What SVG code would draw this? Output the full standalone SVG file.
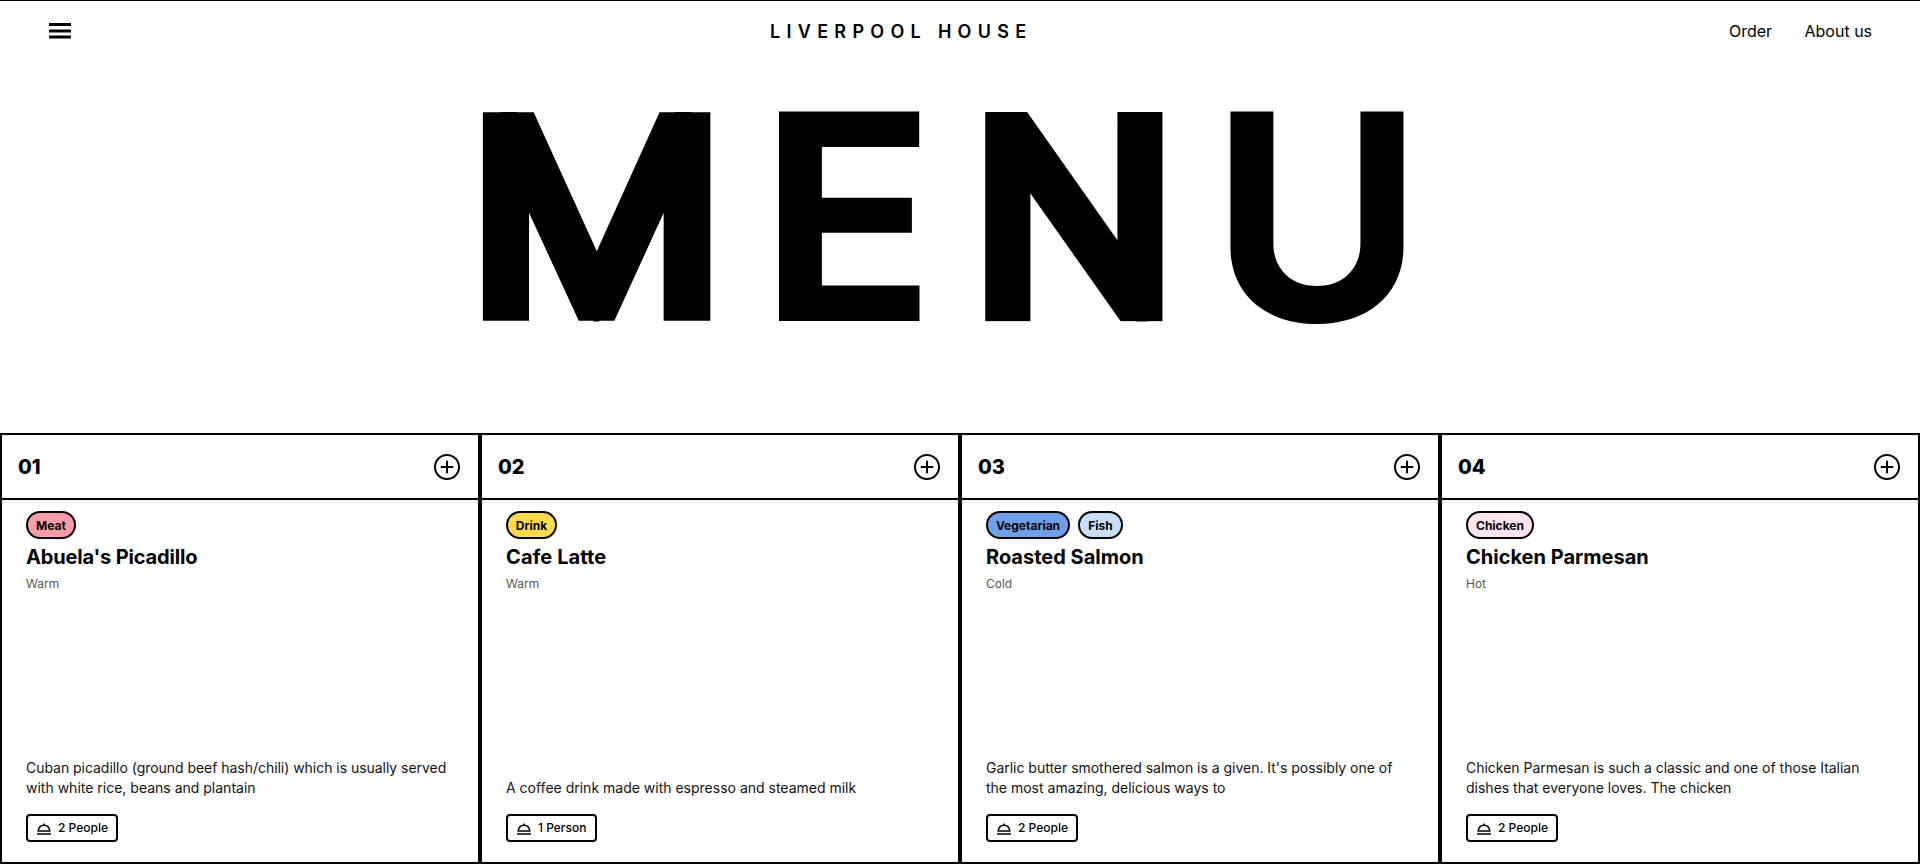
<svg xmlns="http://www.w3.org/2000/svg" xmlns:xlink="http://www.w3.org/1999/xlink" width="1920" height="864" viewBox="0 0 1920 864">
<style>
text{font-family:Inter,"Noto Sans","Liberation Sans",sans-serif;fill:#000}
.nav{font-size:16px;font-weight:400}
.brand{font-size:18px;font-weight:600;letter-spacing:6.3px}
.hero{font-size:288px;font-weight:740}
.heroline{font-size:253px;font-weight:300;stroke:#000;stroke-width:26px;stroke-linejoin:miter;stroke-miterlimit:10;vector-effect:non-scaling-stroke}
.num{font-size:20px;font-weight:800}
.tag{font-size:12px;font-weight:700;text-anchor:middle}
.title{font-size:20px;font-weight:700}
.temp{font-size:12px;fill:#555}
.desc{font-size:14px;fill:#111}
.serves{font-size:12px;font-weight:500}
.card{fill:#fff;stroke:#000;stroke-width:2}
.rule{stroke:#000;stroke-width:2}
.pill{stroke:#000;stroke-width:2}
.badge{fill:#fff;stroke:#000;stroke-width:2}
.icon{fill:none;stroke:#000;stroke-width:2}
.bell{fill:none;stroke:#000;stroke-width:1.500}
</style>
<defs>
<clipPath id="heroclip"><rect x="470" y="112" width="720" height="209.500"/></clipPath>
<g id="plus"><circle r="12" class="icon"/><path d="M-6.300 0H6.300M0-6.300V6.300" class="icon"/></g>
<g id="bell"><path d="M-5.800 3A5.800 5.800 0 0 1 5.800 3Z" class="bell"/><path d="M-7 6H7" class="bell"/><path d="M0-2.800V-4.500" class="bell"/></g>
</defs>
<rect width="1920" height="864" fill="#fff"/>
<g id="header">
<rect width="1920" height="1" fill="#000"/>
<path d="M49 24.500H71M49 31H71M49 37H71" stroke="#000" stroke-width="3"/>
<text class="brand" x="770" y="38">LIVERPOOL HOUSE</text>
<text class="nav" x="1729" y="37">Order</text>
<text class="nav" x="1804.500" y="37">About us</text>
</g>
<g id="hero">
<g clip-path="url(#heroclip)">
<text class="heroline" transform="translate(469.4,308.5) scale(1.117,1)">M</text>
<text class="heroline" transform="translate(973,308.5) scale(1.05,1)">N</text>
</g>
<text class="hero" x="760" y="321">E</text>
<text class="hero" x="1211.500" y="321">U</text>
</g>
<g id="card-1">
<rect class="card" x="1" y="434" width="478" height="429"/><path class="rule" d="M0 499H480"/>
<text class="num" x="18" y="474">01</text><use xlink:href="#plus" x="447" y="467"/>
<rect class="pill" x="27" y="512" width="48" height="26" rx="13" fill="#fb9caa"/><text class="tag" x="51" y="530">Meat</text>
<text class="title" x="26" y="564" letter-spacing="-0.15">Abuela's Picadillo</text><text class="temp" x="26" y="588">Warm</text>
<text class="desc" x="26" y="773" letter-spacing="-0.037">Cuban picadillo (ground beef hash/chili) which is usually served</text>
<text class="desc" x="26" y="793">with white rice, beans and plantain</text>
<rect class="badge" x="27" y="815" width="90" height="26" rx="3"/><use xlink:href="#bell" x="44" y="828"/><text class="serves" x="58" y="832">2 People</text>
</g>
<g id="card-2">
<rect class="card" x="481" y="434" width="478" height="429"/><path class="rule" d="M480 499H960"/>
<text class="num" x="498" y="474">02</text><use xlink:href="#plus" x="927" y="467"/>
<rect class="pill" x="507" y="512" width="49" height="26" rx="13" fill="#ffdb4a"/><text class="tag" x="531.500" y="530">Drink</text>
<text class="title" x="506" y="564" letter-spacing="0.12">Cafe Latte</text><text class="temp" x="506" y="588">Warm</text>
<text class="desc" x="506" y="793">A coffee drink made with espresso and steamed milk</text>
<rect class="badge" x="507" y="815" width="89" height="26" rx="3"/><use xlink:href="#bell" x="524" y="828"/><text class="serves" x="538" y="832">1 Person</text>
</g>
<g id="card-3">
<rect class="card" x="961" y="434" width="478" height="429"/><path class="rule" d="M960 499H1440"/>
<text class="num" x="978" y="474">03</text><use xlink:href="#plus" x="1407" y="467"/>
<rect class="pill" x="987" y="512" width="82" height="26" rx="13" fill="#6f9fe9"/><text class="tag" x="1028" y="530">Vegetarian</text>
<rect class="pill" x="1079" y="512" width="43" height="26" rx="13" fill="#c9defb"/><text class="tag" x="1100.500" y="530">Fish</text>
<text class="title" x="986" y="564">Roasted Salmon</text><text class="temp" x="986" y="588">Cold</text>
<text class="desc" x="986" y="773" letter-spacing="-0.02">Garlic butter smothered salmon is a given. It's possibly one of</text>
<text class="desc" x="986" y="793">the most amazing, delicious ways to</text>
<rect class="badge" x="987" y="815" width="90" height="26" rx="3"/><use xlink:href="#bell" x="1004" y="828"/><text class="serves" x="1018" y="832">2 People</text>
</g>
<g id="card-4">
<rect class="card" x="1441" y="434" width="478" height="429"/><path class="rule" d="M1440 499H1920"/>
<text class="num" x="1458" y="474">04</text><use xlink:href="#plus" x="1887" y="467"/>
<rect class="pill" x="1467" y="512" width="66" height="26" rx="13" fill="#fde4f0"/><text class="tag" x="1500" y="530">Chicken</text>
<text class="title" x="1466" y="564">Chicken Parmesan</text><text class="temp" x="1466" y="588">Hot</text>
<text class="desc" x="1466" y="773" letter-spacing="-0.02">Chicken Parmesan is such a classic and one of those Italian</text>
<text class="desc" x="1466" y="793">dishes that everyone loves. The chicken</text>
<rect class="badge" x="1467" y="815" width="90" height="26" rx="3"/><use xlink:href="#bell" x="1484" y="828"/><text class="serves" x="1498" y="832">2 People</text>
</g>
<g id="connectors"/>
</svg>
